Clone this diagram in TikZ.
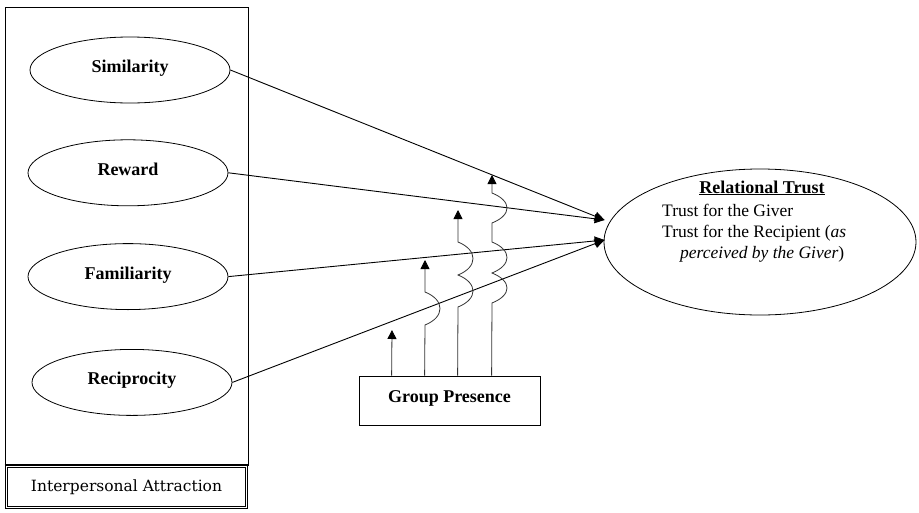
\documentclass[tikz,border=0pt]{standalone}
\usepackage{fontspec}
\setmainfont{Liberation Serif}
\newfontfamily\slabfont{DejaVu Serif}
\usetikzlibrary{positioning,calc,arrows.meta,shapes.geometric}

\tikzset{
	factor/.style={draw, ellipse, line width=0.8pt, minimum width=200pt, minimum height=66pt, inner sep=0pt, text height=12pt, text depth=7pt, font=\bfseries\fontsize{18}{20}\selectfont},
	link/.style={line width=0.9pt, -{Triangle[length=10pt,width=9pt]}},
	gpline/.style={line width=0.8pt, black!80, -{Triangle[length=9pt,width=9pt,color=black]}},
	bump/.style={to path={.. controls ($(\tikztostart)+(20,-8)$) and ($(\tikztotarget)+(20,8)$) .. (\tikztotarget)}},
}

\begin{document}
\begin{tikzpicture}[x=1pt, y=-1pt]
	\useasboundingbox (0,0) rectangle (919,512);

	% interpersonal attraction block
	\node[draw, line width=0.8pt, minimum width=243pt, minimum height=458pt, inner sep=0pt] (frame) at (126.5,236) {};
	\draw[line width=3.5pt] (frame.south west) -- (frame.south east);
	\node[draw, double, double distance=1.6pt, line width=0.7pt, minimum width=240pt, minimum height=41pt, inner sep=0pt, font=\slabfont\fontsize{15.5}{18}\selectfont] (ia) at (126.5,487) {Interpersonal Attraction};

	\node[factor] (sim) at (130,70) {Similarity};
	\node[factor, below=36pt of sim, xshift=-2pt] (rew) {Reward};
	\node[factor, below=37pt of rew] (fam) {Familiarity};
	\node[factor, below=39pt of fam, xshift=4pt] (rec) {Reciprocity};

	% relational trust
	\node[draw, ellipse, line width=0.8pt, minimum width=312pt, minimum height=146pt] (rt) at (760,242) {};
	\node[anchor=base, inner sep=0pt, font=\bfseries\fontsize{18}{20}\selectfont] (rttitle) at (762,193) {\underline{Relational Trust}};
	\node[anchor=north west, align=left, inner sep=0pt, font=\fontsize{17.5}{21}\selectfont] (rtbody) at (662,204)
		{Trust for the Giver\\Trust for the Recipient (\textit{as}\\\hspace{18pt}\textit{perceived by the Giver})};

	\coordinate (tip1) at ($(rt.west)+(1,-22)$);
	\coordinate (tip2) at ($(rt.west)+(1,-2)$);

	\draw[link] (sim.east) -- (tip1);
	\draw[link] (rew.east) -- (tip1);
	\draw[link] (fam.east) -- (tip2);
	\draw[link] (rec.east) -- (tip2);

	% group presence
	\node[draw, line width=0.8pt, minimum width=181pt, minimum height=49pt, inner sep=0pt, text height=12pt, text depth=8pt, font=\bfseries\fontsize{18}{20}\selectfont] (gp) at (449.5,400.5) {Group Presence};

	\coordinate (g1) at ($(gp.north west)+(33,0)$);
	\coordinate (g2) at ($(gp.north west)+(66,0)$);
	\coordinate (g3) at ($(gp.north west)+(99,0)$);
	\coordinate (g4) at ($(gp.north west)+(133,0)$);
	\coordinate (h1) at (392,330);
	\coordinate (h2) at (425,260);
	\coordinate (h3) at (458,210);
	\coordinate (h4) at (492,175);

	\draw[gpline] (g1) -- (h1);
	\draw[gpline] (g2) -- (425,325) to[bump] (425,292) -- (h2);
	\draw[gpline] (g3) -- (458,307) to[bump] (458,275) to[bump] (458,242) -- (h3);
	\draw[gpline] (g4) -- (492,303) to[bump] (492,273) to[bump] (492,242) -- (492,223) to[bump] (492,193) -- (h4);
\end{tikzpicture}
\end{document}
